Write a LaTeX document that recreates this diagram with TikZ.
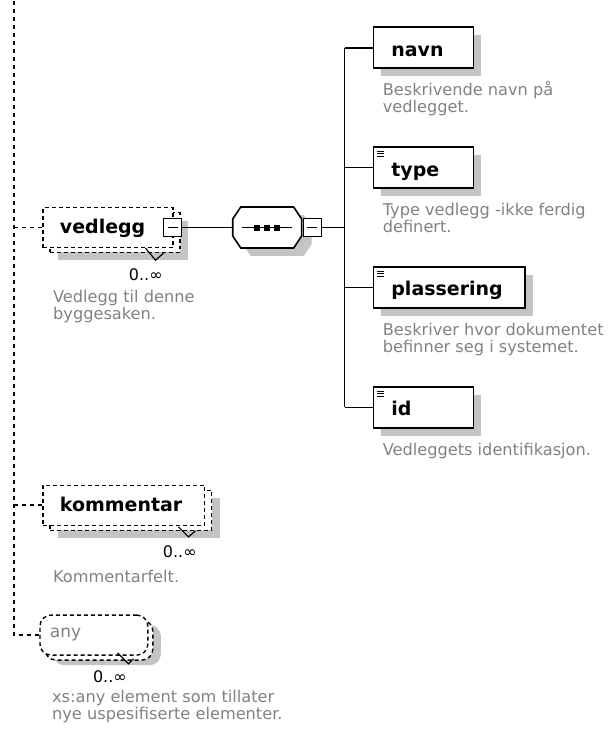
\documentclass[tikz,border=0pt]{standalone}
\usepackage{fontspec}
\setmainfont{DejaVu Sans}
\usetikzlibrary{shadows}
\definecolor{descgray}{RGB}{130,130,130}
\definecolor{shadegray}{RGB}{196,196,196}

% octagon of the sequence compositor, around centre #1,#2
\newcommand\octpath[2]{(#1-26.5,#2-20.5) -- (#1+26.5,#2-20.5) -- (#1+34.5,#2-8.5)
  -- (#1+34.5,#2+8.5) -- (#1+26.5,#2+20.5) -- (#1-26.5,#2+20.5) -- (#1-34.5,#2+8.5)
  -- (#1-34.5,#2-8.5) -- cycle}

\tikzset{
  elem/.style={draw, line width=1.6pt, fill=white, minimum height=41pt,
    text width=#1, text height=17pt, text depth=0pt, inner xsep=18pt, inner ysep=0pt,
    align=left, font=\bfseries\fontsize{19}{21}\selectfont,
    drop shadow={shadow xshift=8pt, shadow yshift=-8pt, fill=shadegray, opacity=1}},
  elem/.default=64pt,
  repelem/.style={draw, line width=1.4pt, dash pattern=on 4pt off 3pt, fill=white,
    minimum height=40pt, text width=#1, text height=12pt, text depth=0pt,
    inner xsep=17pt, inner ysep=0pt, align=left, font=\bfseries\fontsize{19}{21}\selectfont,
    drop shadow={shadow xshift=15pt, shadow yshift=-13pt, fill=shadegray, opacity=1},
    copy shadow={shadow xshift=7pt, shadow yshift=-5pt}},
  minusbox/.style={draw, fill=white, line width=1.2pt, minimum size=18pt, inner sep=0pt,
    path picture={\draw[line width=1.2pt] ([xshift=-5pt]path picture bounding box.center)
      -- ([xshift=5pt]path picture bounding box.center);}},
  conn/.style={line width=1.6pt},
  dconn/.style={line width=1.5pt, dash pattern=on 4pt off 4pt},
  notch/.style={line width=1.2pt},
  desc/.style={font=\fontsize{16.2}{17}\selectfont, text=descgray, align=left,
    inner sep=0pt, anchor=base west},
  card/.style={font=\fontsize{16}{18}\selectfont, inner sep=0pt, anchor=base east}
}

\begin{document}
\begin{tikzpicture}[x=1pt,y=-1pt]
\path[fill=white] (0,0) rectangle (613,738);

% left rail
\coordinate (rtop) at (14,0);
\coordinate (rbot) at (14,635);

\node[repelem=96pt] (vedlegg) at (108,227) {vedlegg};
\node[repelem=128pt] (kommentar) at (124,505) {kommentar};
\node[draw, line width=1.4pt, dash pattern=on 4pt off 3pt, fill=white, rounded corners=11pt,
  minimum height=40pt, text width=88pt, text height=4pt, text depth=0pt, inner xsep=10pt,
  inner ysep=0pt, align=left, text=descgray, font=\fontsize{17}{19}\selectfont,
  drop shadow={shadow xshift=13pt, shadow yshift=-10pt, fill=shadegray, opacity=1},
  copy shadow={shadow xshift=5pt, shadow yshift=-5pt}] (any) at (94,635) {any};

\draw[dconn] (rtop) -- (rbot) -- (any.west);
\draw[dconn] (rtop |- vedlegg.west) -- (vedlegg.west);
\draw[dconn] (rtop |- kommentar.west) -- (kommentar.west);

\draw[notch] ([shift={(-28,0)}]vedlegg.south east) -- ++(10,12) -- ++(8,-7);
\draw[notch] ([shift={(-27,1)}]kommentar.south east) -- ++(10,10) -- ++(7,-6);
\draw[notch] ([shift={(-31,-3)}]any.south east) -- ++(11,11) -- ++(5,-5);

\node[card] (vcard) at (163,280) {0..∞};
\node[card] (kcard) at (197,557) {0..∞};
\node[card] (acard) at (127,682) {0..∞};

% base of a two-line text is its last line
\node[desc] (vdesc) at (53,319) {Vedlegg til denne\\byggesaken.};
\node[desc] (kdesc) at (53,582) {Kommentarfelt.};
\node[desc] (adesc) at (52,719) {xs:any element som tillater\\nye uspesifiserte elementer.};

% sequence
\node[minusbox] (vmin) at ([xshift=-1pt]vedlegg.east) {};
\fill[shadegray] \octpath{277.5}{235};
\draw[line width=1.6pt, fill=white] \octpath{267.5}{227};
\node[minimum width=69pt, minimum height=41pt, inner sep=0pt] (seq) at (267.5,227) {};
\draw[line width=1.3pt] ([xshift=-25pt]seq.center) -- ([xshift=25pt]seq.center);
\foreach \dx in {-10,0,10}
  \fill ([shift={(\dx-3,-3)}]seq.center) rectangle ++(6,6);
\node[minusbox, anchor=west] (smin) at ([xshift=1pt]seq.east) {};
\coordinate (trunk) at (345,227);
\draw[conn] (vmin) -- (seq);
\draw[conn] (smin) -- (trunk);

% children
\node[elem, anchor=west] (navn) at (373,47) {navn};
\node[elem, anchor=west] (type) at (373,167) {type};
\node[elem=116pt, anchor=west] (plassering) at (373,287) {plassering};
\node[elem, anchor=west] (id) at (373,407) {id};
\draw[conn] (trunk |- navn.west) -- (trunk |- id.west);
\foreach \c in {navn,type,plassering,id}
  \draw[conn] (trunk |- \c.west) -- (\c.west);
\foreach \c in {type,plassering,id}
  \foreach \d in {5,7.5,10}
    \draw[line width=0.9pt] ([shift={(4,\d)}]\c.north west) -- ++(7,0);

\node[desc] (navndesc) at (383,112) {Beskrivende navn på\\vedlegget.};
\node[desc] (typedesc) at (383,232) {Type vedlegg -ikke ferdig\\definert.};
\node[desc] (plassdesc) at (383,352) {Beskriver hvor dokumentet\\befinner seg i systemet.};
\node[desc] (iddesc) at (383,455) {Vedleggets identifikasjon.};
\end{tikzpicture}
\end{document}
